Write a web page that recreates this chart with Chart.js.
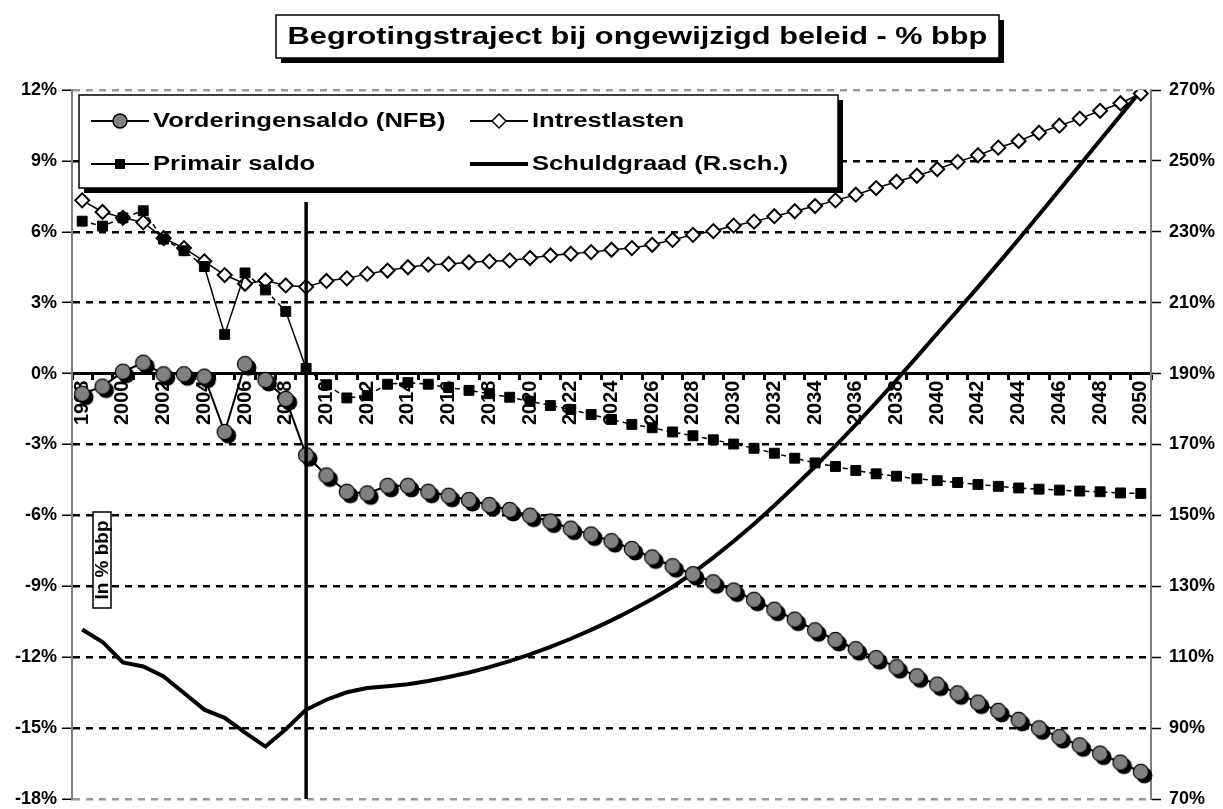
<!DOCTYPE html>
<html>
<head>
<meta charset="utf-8">
<title>Begrotingstraject bij ongewijzigd beleid</title>
<script src="https://cdn.jsdelivr.net/npm/chart.js@4.4.1/dist/chart.umd.min.js"></script>
<style>
  html, body { margin: 0; padding: 0; background: #fff; }
  canvas { display: block; }
</style>
</head>
<body>
<canvas id="chart" width="1223" height="809"></canvas>
<script>
// Jaren (categorieën)
const jaren = ['1998', '1999', '2000', '2001', '2002', '2003', '2004', '2005', '2006', '2007',
  '2008', '2009', '2010', '2011', '2012', '2013', '2014', '2015', '2016', '2017',
  '2018', '2019', '2020', '2021', '2022', '2023', '2024', '2025', '2026', '2027',
  '2028', '2029', '2030', '2031', '2032', '2033', '2034', '2035', '2036', '2037',
  '2038', '2039', '2040', '2041', '2042', '2043', '2044', '2045', '2046', '2047',
  '2048', '2049', '2050']

// Reeksen in % bbp (linkeras)
const vorderingensaldo = [-0.85, -0.55, 0.08, 0.46, -0.03, -0.03, -0.13, -2.47, 0.40, -0.27,
  -1.07, -3.45, -4.31, -5.00, -5.07, -4.75, -4.75, -5.00, -5.17, -5.35,
  -5.56, -5.77, -6.01, -6.26, -6.56, -6.81, -7.09, -7.42, -7.78, -8.15,
  -8.49, -8.83, -9.18, -9.57, -9.99, -10.41, -10.86, -11.27, -11.66, -12.04,
  -12.42, -12.81, -13.16, -13.53, -13.92, -14.27, -14.65, -15.01, -15.38, -15.73,
  -16.08, -16.46, -16.85]
const intrestlasten = [7.33, 6.84, 6.59, 6.40, 5.73, 5.31, 4.75, 4.17, 3.80, 3.94,
  3.73, 3.67, 3.92, 4.03, 4.22, 4.36, 4.50, 4.61, 4.64, 4.71,
  4.75, 4.79, 4.89, 5.00, 5.07, 5.14, 5.24, 5.31, 5.45, 5.66,
  5.87, 6.03, 6.26, 6.43, 6.66, 6.87, 7.09, 7.33, 7.57, 7.85,
  8.12, 8.37, 8.65, 8.96, 9.24, 9.56, 9.84, 10.19, 10.49, 10.79,
  11.12, 11.44, 11.85]
const primairSaldo = [6.45, 6.24, 6.59, 6.89, 5.69, 5.20, 4.53, 1.66, 4.26, 3.54,
  2.63, 0.22, -0.47, -1.03, -0.93, -0.45, -0.38, -0.45, -0.59, -0.71,
  -0.85, -1.00, -1.17, -1.35, -1.52, -1.73, -1.94, -2.15, -2.29, -2.47,
  -2.63, -2.80, -2.98, -3.16, -3.37, -3.58, -3.78, -3.93, -4.10, -4.24,
  -4.34, -4.45, -4.53, -4.61, -4.69, -4.77, -4.84, -4.89, -4.93, -4.97,
  -5.00, -5.05, -5.07]

// Schuldgraad in % bbp (rechteras)
const schuldgraad = [117.8, 114.3, 108.5, 107.4, 104.6, 99.9, 95.2, 92.9, 88.7, 84.8,
  89.7, 95.2, 98.0, 100.1, 101.3, 101.8, 102.4, 103.3, 104.4, 105.7,
  107.2, 108.9, 110.8, 112.9, 115.2, 117.7, 120.4, 123.3, 126.4, 129.8,
  133.8, 138.1, 142.7, 147.6, 152.8, 158.2, 163.8, 169.6, 175.6, 181.8,
  188.2, 194.7, 201.3, 207.8, 214.4, 221.1, 227.9, 234.8, 241.8, 248.8,
  255.8, 262.8, 269.8]

const titel = 'Begrotingstraject bij ongewijzigd beleid - % bbp'
const asLabel = 'In % bbp'
const scheidingsJaar = '2009'

const FONT = '"Liberation Sans", Arial, sans-serif'
const HS = 1.28 // tekst in het origineel is breed uitgerekt

// grijze bol met zwarte schaduw
const bol = document.createElement('canvas')
bol.width = 26
bol.height = 26
const g = bol.getContext('2d')
g.fillStyle = '#000'
g.beginPath(); g.arc(16.5, 16.5, 8, 0, 2 * Math.PI); g.fill()
g.fillStyle = '#808080'
g.strokeStyle = '#000'
g.lineWidth = 1.2
g.beginPath(); g.arc(13, 13, 7.6, 0, 2 * Math.PI); g.fill(); g.stroke()

const tekst = (ctx, txt, x, y, size, align) => {
  ctx.save()
  ctx.font = 'bold ' + size + 'px ' + FONT
  ctx.fillStyle = '#000'
  ctx.textBaseline = 'middle'
  ctx.textAlign = align || 'left'
  ctx.translate(x, y)
  ctx.scale(HS, 1)
  ctx.fillText(txt, 0, 0)
  ctx.restore()
}

const kader = (ctx, x, y, w, h, schaduw) => {
  ctx.save()
  if (schaduw) {
    ctx.fillStyle = '#000'
    ctx.fillRect(x + schaduw, y + schaduw, w, h)
  }
  ctx.fillStyle = '#fff'
  ctx.fillRect(x, y, w, h)
  ctx.strokeStyle = '#000'
  ctx.lineWidth = 1.5
  ctx.strokeRect(x, y, w, h)
  ctx.restore()
}

const legendaSymbool = (ctx, i, x, y) => {
  ctx.save()
  ctx.strokeStyle = '#000'
  ctx.lineWidth = i === 3 ? 4 : 2
  ctx.beginPath(); ctx.moveTo(x, y); ctx.lineTo(x + 58, y); ctx.stroke()
  const mx = x + 29
  ctx.lineWidth = 1.5
  if (i === 0) {
    ctx.fillStyle = '#808080'
    ctx.beginPath(); ctx.arc(mx, y, 7, 0, 2 * Math.PI); ctx.fill(); ctx.stroke()
  } else if (i === 1) {
    ctx.fillStyle = '#fff'
    ctx.beginPath()
    ctx.moveTo(mx, y - 7); ctx.lineTo(mx + 7, y); ctx.lineTo(mx, y + 7); ctx.lineTo(mx - 7, y)
    ctx.closePath(); ctx.fill(); ctx.stroke()
  } else if (i === 2) {
    ctx.fillStyle = '#000'
    ctx.fillRect(mx - 5, y - 5, 10, 10)
  }
  ctx.restore()
}

const decor = {
  id: 'decor',
  beforeDraw(chart) {
    const ctx = chart.ctx
    ctx.save()
    ctx.fillStyle = '#fff'
    ctx.fillRect(0, 0, chart.width, chart.height)
    ctx.restore()
  },
  afterDatasetsDraw(chart) {
    const ctx = chart.ctx
    const area = chart.chartArea
    // verticale scheidingslijn realisaties / projecties
    const xv = chart.scales.x.getPixelForValue(jaren.indexOf(scheidingsJaar))
    ctx.save()
    ctx.strokeStyle = '#000'
    ctx.lineWidth = 3.5
    ctx.beginPath(); ctx.moveTo(xv, 202); ctx.lineTo(xv, area.bottom); ctx.stroke()
    ctx.restore()

    // "In % bbp" kadertje
    kader(ctx, 93, 512, 18, 96, 0)
    ctx.save()
    ctx.translate(103, 560)
    ctx.rotate(-Math.PI / 2)
    ctx.font = 'bold 19px ' + FONT
    ctx.fillStyle = '#000'
    ctx.textAlign = 'center'
    ctx.textBaseline = 'middle'
    ctx.fillText(asLabel, 0, 0)
    ctx.restore()

    // legende
    kader(ctx, 79, 95, 759, 93, 5)
    const pos = [[91, 121], [470, 121], [91, 164], [470, 164]]
    chart.data.datasets.forEach((ds, i) => {
      legendaSymbool(ctx, i, pos[i][0], pos[i][1])
      tekst(ctx, ds.label, pos[i][0] + 62, pos[i][1], 20)
    })
  },
  afterDraw(chart) {
    const ctx = chart.ctx
    kader(ctx, 276, 15, 723, 43, 5)
    tekst(ctx, titel, 637.5, 37, 24, 'center')
  }
}

const tickFont = { family: FONT, size: 18, weight: 'bold' }

let ctx = document.getElementById('chart')
let chart = new Chart(ctx, {
  type: 'line',
  data: {
    labels: jaren,
    datasets: [{
      label: 'Vorderingensaldo (NFB)',
      data: vorderingensaldo,
      yAxisID: 'y',
      borderColor: '#000',
      borderWidth: 2,
      pointStyle: bol,
      pointRadius: 8,
      order: 0
    }, {
      label: 'Intrestlasten',
      data: intrestlasten,
      yAxisID: 'y',
      borderColor: '#000',
      borderWidth: 1.5,
      pointStyle: 'rectRot',
      pointRadius: 7,
      pointBackgroundColor: '#fff',
      pointBorderColor: '#000',
      pointBorderWidth: 2,
      order: 2
    }, {
      label: 'Primair saldo',
      data: primairSaldo,
      yAxisID: 'y',
      borderColor: '#000',
      borderWidth: 1.5,
      pointStyle: 'rect',
      pointRadius: 7,
      pointBackgroundColor: '#000',
      pointBorderColor: '#000',
      pointBorderWidth: 1,
      segment: {
        borderDash: c => Math.abs(c.p1.y - c.p0.y) > 35 ? [] : [5, 4]
      },
      order: 1
    }, {
      label: 'Schuldgraad (R.sch.)',
      data: schuldgraad,
      yAxisID: 'y2',
      borderColor: '#000',
      borderWidth: 4,
      pointRadius: 0,
      order: 3
    }]
  },
  options: {
    responsive: false,
    animation: false,
    layout: { padding: { top: 90, bottom: 2, left: 0, right: 0 } },
    plugins: {
      legend: { display: false },
      title: { display: false },
      tooltip: { enabled: false }
    },
    scales: {
      x: {
        type: 'category',
        offset: true,
        position: { y: 0 },
        grid: {
          display: true,
          drawOnChartArea: false,
          offset: true,
          tickLength: 5,
          tickWidth: 3,
          tickColor: '#000'
        },
        border: { color: '#000', width: 3 },
        ticks: {
          autoSkip: false,
          minRotation: 90,
          maxRotation: 90,
          padding: 2,
          color: '#000',
          font: { family: FONT, size: 20, weight: 'bold' },
          callback: function (v, i) { return i % 2 === 0 ? this.getLabelForValue(v) : '' }
        }
      },
      y: {
        position: 'left',
        min: -18,
        max: 12,
        ticks: {
          stepSize: 3,
          padding: 5,
          color: '#000',
          font: tickFont,
          callback: v => v + '%'
        },
        grid: {
          color: c => {
            const v = c.tick ? c.tick.value : null
            if (v === 0) return 'rgba(0,0,0,0)'
            if (v === 12 || v === -18) return '#999'
            return '#000'
          },
          lineWidth: 2.5,
          tickColor: '#000',
          tickLength: 10,
          tickWidth: 1.5
        },
        border: { color: '#7f7f7f', width: 2, dash: [7, 6] },
        afterFit: s => { s.width = 72; s.paddingTop = 0; s.paddingBottom = 0 }
      },
      y2: {
        position: 'right',
        min: 70,
        max: 270,
        ticks: {
          stepSize: 20,
          padding: 8,
          color: '#000',
          font: tickFont,
          callback: v => v + '%'
        },
        grid: {
          drawOnChartArea: false,
          tickColor: '#000',
          tickLength: 10,
          tickWidth: 1.5
        },
        border: { color: '#7f7f7f', width: 2 },
        afterFit: s => { s.width = 72; s.paddingTop = 0; s.paddingBottom = 0 }
      }
    }
  },
  plugins: [decor]
})
</script>
</body>
</html>
